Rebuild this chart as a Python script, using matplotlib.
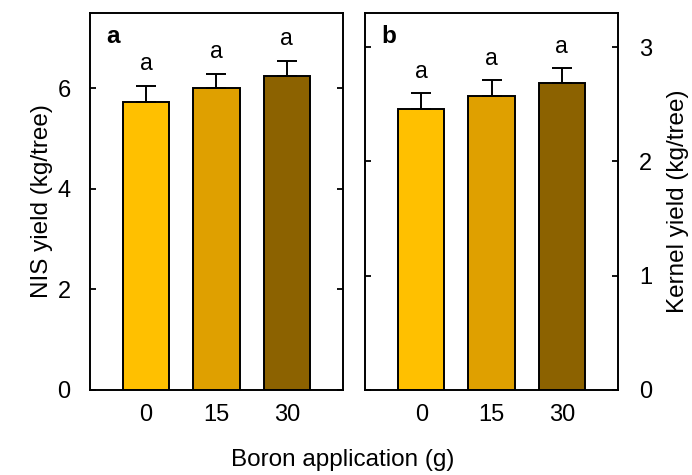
import matplotlib.pyplot as plt

plt.rcParams['font.family'] = ['Liberation Sans', 'DejaVu Sans']

doses = ['0', '15', '30']
nis_yield = [5.73, 6.00, 6.25]
nis_err = [0.31, 0.28, 0.29]
kernel_yield = [2.46, 2.57, 2.69]
kernel_err = [0.14, 0.14, 0.13]
letters_a = ['a', 'a', 'a']
letters_b = ['a', 'a', 'a']
colors = ['#FFC000', '#DFA000', '#8C6200']


def panel(ax, vals, errs, letters, tag, ylim, yticks, gap):
    x = range(len(doses))
    ax.bar(x, vals, width=0.66, color=colors, edgecolor='black', linewidth=1.4, zorder=2)
    ax.errorbar(x, vals, yerr=[[0] * len(errs), errs], fmt='none', ecolor='black',
                elinewidth=1.4, capsize=7.5, capthick=1.4, zorder=3)
    # significance letters above the error bars
    for i, (v, e, l) in enumerate(zip(vals, errs, letters)):
        ax.annotate(l, (i, v + e), xytext=(0, gap), textcoords='offset points',
                    ha='center', va='baseline', fontsize=16.5)
    ax.text(0.063, 0.92, tag, transform=ax.transAxes, fontsize=17.5, fontweight='bold',
            va='baseline', ha='left')
    ax.set_xlim(-0.8, 2.8)
    ax.set_ylim(*ylim)
    ax.set_yticks(yticks)
    ax.set_xticks(list(x))
    ax.set_xticklabels(doses)
    ax.tick_params(axis='x', length=0, pad=10, labelsize=17)
    ax.tick_params(axis='y', direction='in', length=4, width=1.3, left=True, right=True,
                   labelsize=17, pad=14)
    for s in ax.spines.values():
        s.set_linewidth(1.4)


fig = plt.figure(figsize=(6.92, 4.75), dpi=100)
ax1 = fig.add_axes([0.130, 0.179, 0.3656, 0.7937])
ax2 = fig.add_axes([0.5275, 0.179, 0.3656, 0.7937])

panel(ax1, nis_yield, nis_err, letters_a, 'a', (0, 7.5), [0, 2, 4, 6], 12)
ax1.set_ylabel('NIS yield (kg/tree)', fontsize=17.5, labelpad=3)

panel(ax2, kernel_yield, kernel_err, letters_b, 'b', (0, 3.3), [0, 1, 2, 3], 11)
ax2.yaxis.set_label_position('right')
ax2.tick_params(axis='y', labelleft=False, labelright=True, pad=15)
ax2.set_ylabel('Kernel yield (kg/tree)', fontsize=17.5, labelpad=11)

fig.text(0.495, 0.032, 'Boron application (g)', ha='center', va='center', fontsize=17.5)

fig.savefig('out.png', dpi=100)
